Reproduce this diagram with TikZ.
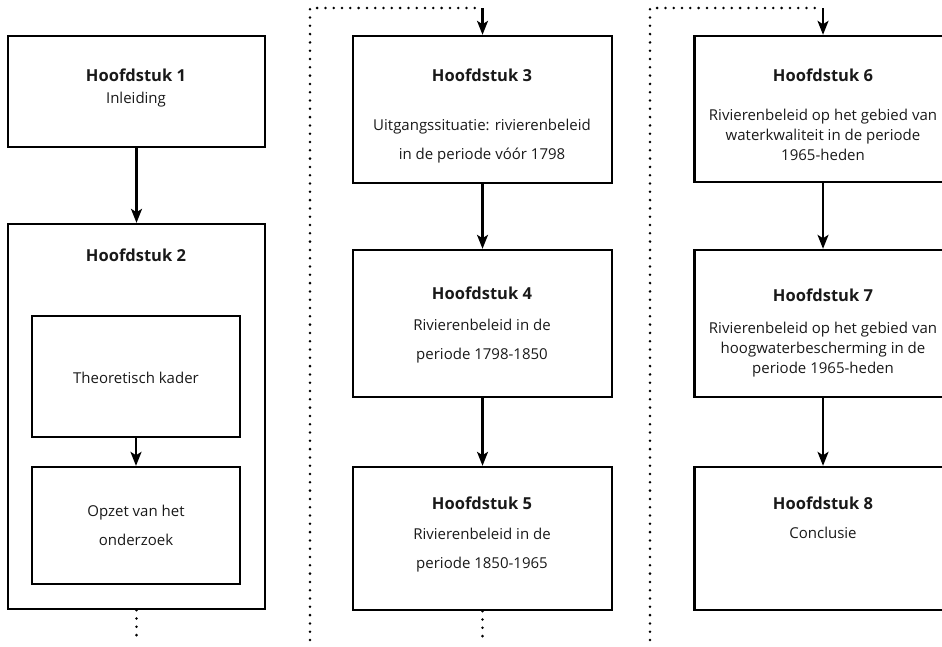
\documentclass[tikz,border=0pt]{standalone}
\usepackage{fontspec}
\setmainfont{Open Sans}
\usepackage{tikz}
\usetikzlibrary{arrows.meta,positioning}

\begin{document}
\begin{tikzpicture}[x=1pt,y=-1pt,>={Stealth[length=14pt,width=11pt,inset=3.5pt]},
    hfdst/.style={draw,line width=2.4pt,minimum width=257pt,inner sep=0pt},
    sub/.style={draw,line width=2.4pt,minimum width=208pt,inner sep=0pt},
    titel/.style={font=\fontsize{16.5}{20}\selectfont\bfseries,text=black!90},
    tekst/.style={font=\fontsize{15}{29}\selectfont,align=center,text=black!90},
    tekstnauw/.style={font=\fontsize{15}{20}\selectfont,align=center,text=black!90},
    pijl/.style={->,line width=2.2pt},
    stip/.style={line width=2.8pt,line cap=round,dash pattern=on 0pt off 8.3pt}]
  \useasboundingbox (0,0) rectangle (942,646);
  \clip (0,0) rectangle (942,646);

  % kolom 1
  \node[hfdst,minimum height=111pt] (h1) at (136.5,91.5) {};
  \node[hfdst,minimum height=385pt] (h2) at (136.5,416.5) {};
  \node[sub,minimum height=121pt]   (tk) at (136,376.5) {};
  \node[sub,minimum height=117pt]   (oz) at (136,525.5) {};
  \node[titel] (t1) at (136,75)  {Hoofdstuk 1};
  \node[tekst] (s1) at (136,100) {Inleiding};
  \node[titel] (t2) at (136,255) {Hoofdstuk 2};
  \node[tekst] (s2a) at (136,378) {Theoretisch kader};
  \node[tekst] (s2b) at (136,525.5) {Opzet van het\\onderzoek};

  % kolom 2
  \node[hfdst,minimum width=259pt,minimum height=147pt] (h3) at (482.5,109.5) {};
  \node[hfdst,minimum width=259pt,minimum height=147pt] (h4) at (482.5,323.5) {};
  \node[hfdst,minimum width=259pt,minimum height=143pt] (h5) at (482.5,538.5) {};
  \node[titel] (t3) at (482,75)  {Hoofdstuk 3};
  \node[tekst] (s3) at (482,141) {Uitgangssituatie: rivierenbeleid\\in de periode vóór 1798};
  \node[titel] (t4) at (482,293) {Hoofdstuk 4};
  \node[tekst] (s4) at (482,341) {Rivierenbeleid in de\\periode 1798-1850};
  \node[titel] (t5) at (482,503) {Hoofdstuk 5};
  \node[tekst] (s5) at (482,550) {Rivierenbeleid in de\\periode 1850-1965};

  % kolom 3
  \node[hfdst,minimum height=146pt] (h6) at (823,109) {};
  \node[hfdst,minimum height=147pt] (h7) at (823,323.5) {};
  \node[hfdst,minimum height=143pt] (h8) at (823,538.5) {};
  \node[titel] (t6) at (823,75)  {Hoofdstuk 6};
  \node[tekstnauw] (s6) at (823,135) {Rivierenbeleid op het gebied van\\waterkwaliteit in de periode\\1965-heden};
  \node[titel] (t7) at (823,295) {Hoofdstuk 7};
  \node[tekstnauw] (s7) at (823,350) {Rivierenbeleid op het gebied van\\hoogwaterbescherming in de\\periode 1965-heden};
  \node[titel] (t8) at (823,503) {Hoofdstuk 8};
  \node[tekst] (s8) at (823,533) {Conclusie};

  % doorlopende stippellijnen
  \coordinate (o1) at (136.5,640);
  \coordinate (k2b) at (310,640);
  \coordinate (k2t) at (310,8);
  \coordinate (p3) at (482.5,8);
  \coordinate (o2) at (482.5,640);
  \coordinate (k3b) at (650,640);
  \coordinate (k3t) at (650,8);
  \coordinate (p6) at (823,8);

  \draw[stip] (h2.south) -- (o1);
  \draw[stip] (k2b) -- (k2t) -- (p3);
  \draw[stip] (h5.south) -- (o2);
  \draw[stip] (k3b) -- (k3t) -- (p6);

  \path[pijl]
    (h1) edge (h2)
    (tk) edge (oz)
    (p3) edge (h3)
    (h3) edge (h4)
    (h4) edge (h5)
    (p6) edge (h6)
    (h6) edge (h7)
    (h7) edge (h8);
\end{tikzpicture}
\end{document}
